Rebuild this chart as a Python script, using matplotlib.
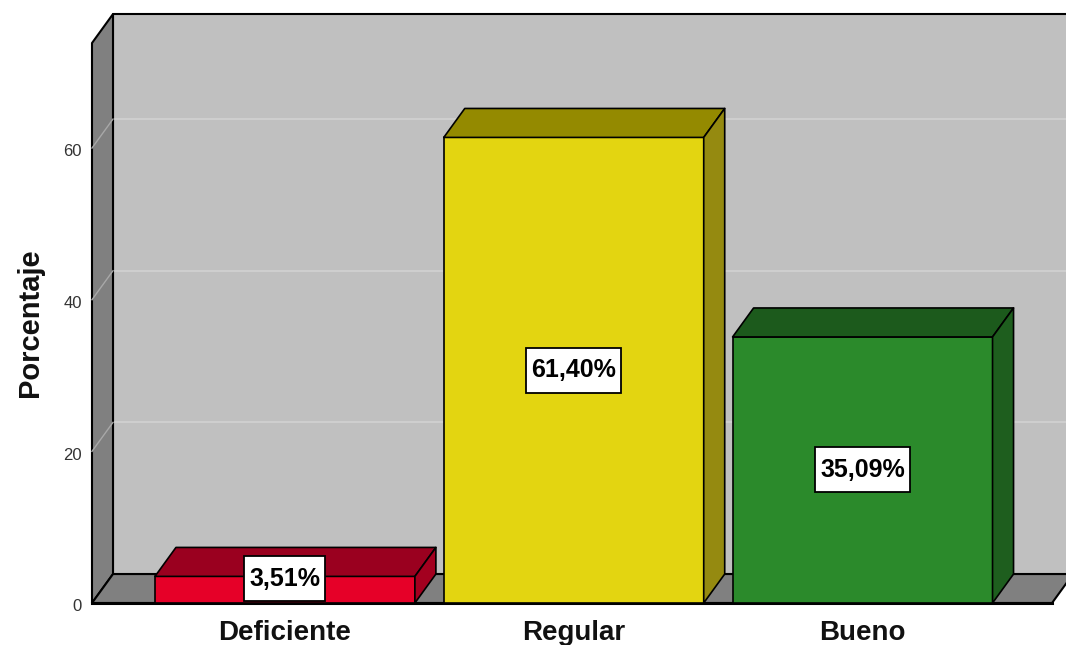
import matplotlib
matplotlib.use("Agg")
import matplotlib.pyplot as plt
from matplotlib.patches import Polygon, Rectangle

# datos
categorias = ["Deficiente", "Regular", "Bueno"]
porcentajes = [3.51, 61.40, 35.09]
etiquetas = ["3,51%", "61,40%", "35,09%"]
ticks_y = [0, 20, 40, 60]

# colores (frente, arriba, lado)
col_frente = ["#e60028", "#e3d511", "#2b8a2b"]
col_arriba = ["#9a001f", "#948a00", "#1c5a1c"]
col_lado = ["#a3001f", "#958a10", "#1e5e1e"]

plt.rcParams['font.family'] = ['Liberation Sans', 'DejaVu Sans']

fig = plt.figure(figsize=(10.66, 6.45), dpi=100)
ax = fig.add_axes([0.0863, 0.0651, 0.9006, 0.8682])
x0, x1 = -0.668, 2.656
ytop = 73.85
ax.set_xlim(x0, x1)
ax.set_ylim(0, ytop)
ax.axis('off')

# profundidad 3D
dx = 0.0727
dy = 3.82
ancho = 0.9


def poly(pts, fc, ec="black", lw=1.0, z=1):
    p = Polygon(pts, closed=True, facecolor=fc, edgecolor=ec, linewidth=lw,
                clip_on=False, zorder=z, joinstyle='round')
    ax.add_patch(p)


# pared del fondo
poly([(x0 + dx, dy), (x1 + dx + 1, dy), (x1 + dx + 1, ytop + dy), (x0 + dx, ytop + dy)],
     "#c0c0c0", lw=1.5, z=1)
# pared lateral
poly([(x0, 0), (x0, ytop), (x0 + dx, ytop + dy), (x0 + dx, dy)], "#808080", lw=1.5, z=2)
# suelo
poly([(x0, 0), (x1, 0), (x1 + dx, dy), (x0 + dx, dy)], "#808080", lw=1.5, z=2)
ax.plot([x0, x1], [0, 0], color="black", lw=2.2, clip_on=False, zorder=3)

# lineas de rejilla
for t in ticks_y[1:]:
    ax.plot([x0 + dx, x1 + dx + 1], [t + dy, t + dy], color="#d2d2d2", lw=1.2,
            clip_on=False, zorder=1.5)
    ax.plot([x0, x0 + dx], [t, t + dy], color="#a8a8a8", lw=1.0,
            clip_on=False, zorder=2.5)
for t in ticks_y:
    ax.text(x0 - 0.035, t - 0.5, str(t), ha="right", va="center", fontsize=12,
            color="#333333")

# barras
textos = []
for i, v in enumerate(porcentajes):
    a = i - ancho / 2
    b = i + ancho / 2
    poly([(a, 0), (b, 0), (b, v), (a, v)], col_frente[i], lw=1.2, z=4)
    poly([(a, v), (b, v), (b + dx, v + dy), (a + dx, v + dy)], col_arriba[i], lw=1.2, z=4)
    poly([(b, 0), (b + dx, dy), (b + dx, v + dy), (b, v)], col_lado[i], lw=1.2, z=4)
    t = ax.text(i, max(v / 2, 3.2), etiquetas[i], ha="center", va="center",
                fontsize=18, fontweight="bold", zorder=6)
    textos.append(t)
    ax.text(i, -4.0, categorias[i], ha="center", va="center", fontsize=20,
            fontweight="bold", color="#111111")

# cajas blancas de las etiquetas
fig.canvas.draw()
r = fig.canvas.get_renderer()
inv = ax.transData.inverted()
for t in textos:
    bb = t.get_window_extent(r)
    cx = (bb.x0 + bb.x1) / 2
    cy = (bb.y0 + bb.y1) / 2
    w = bb.width + 10
    h = 45
    (ax0, ay0) = inv.transform((cx - w / 2, cy - h / 2))
    (ax1, ay1) = inv.transform((cx + w / 2, cy + h / 2))
    ax.add_patch(Rectangle((ax0, ay0), ax1 - ax0, ay1 - ay0, facecolor="white",
                           edgecolor="black", linewidth=1.3, zorder=5, clip_on=False))

fig.text(0.028, 0.5, "Porcentaje", rotation=90, ha="center", va="center",
         fontsize=21, fontweight="bold", color="#111111")

fig.savefig("out.png", dpi=100, facecolor="white")
